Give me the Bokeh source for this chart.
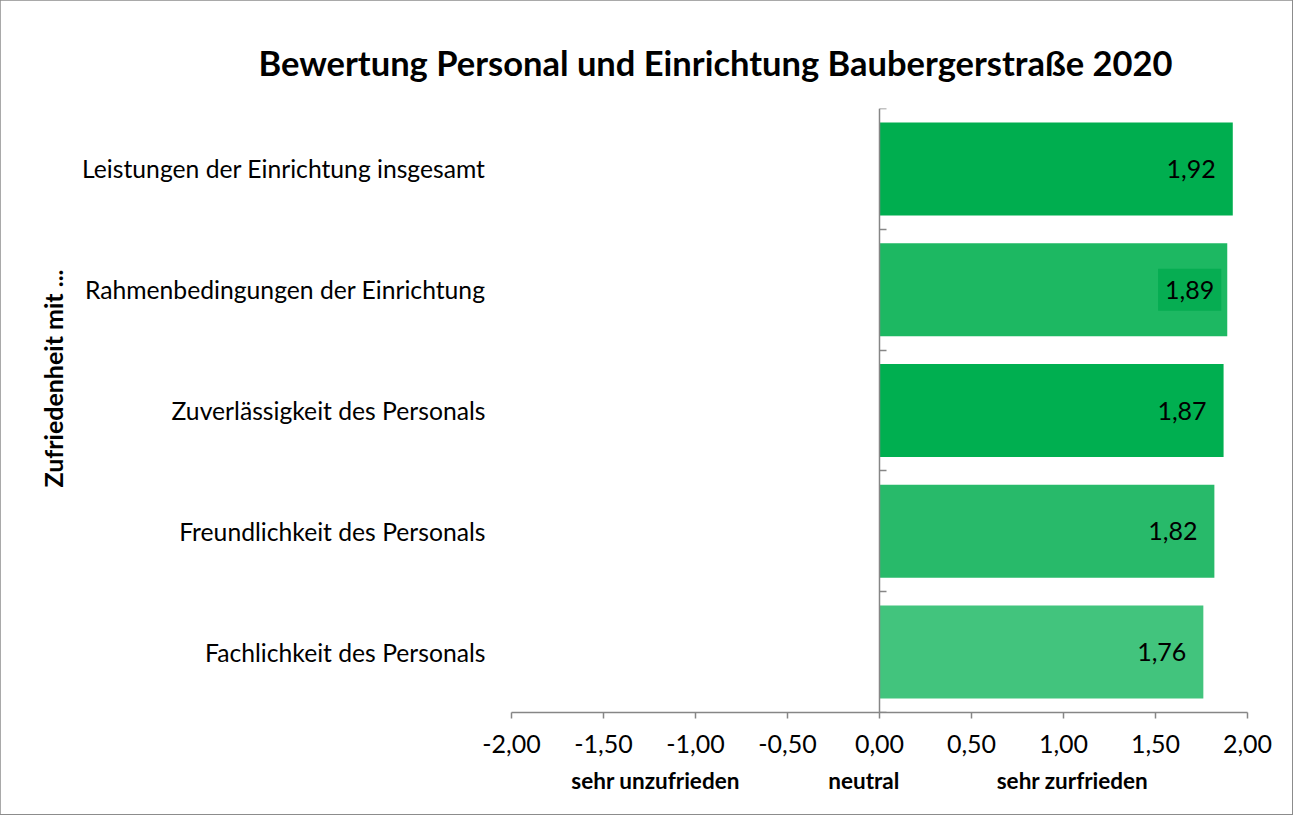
from bokeh.plotting import figure
from bokeh.models import (Range1d, LinearAxis, FixedTicker, ColumnDataSource,
                          LabelSet, Label, Title)
from bokeh.core.properties import value
from bokeh.embed import file_html
from bokeh.resources import INLINE

# ---- data (top to bottom) ----
categories = [
    "Leistungen der Einrichtung insgesamt",
    "Rahmenbedingungen der Einrichtung",
    "Zuverlässigkeit des Personals",
    "Freundlichkeit des Personals",
    "Fachlichkeit des Personals",
]
scores = [1.92, 1.89, 1.87, 1.82, 1.76]
score_labels = ["1,92", "1,89", "1,87", "1,82", "1,76"]
bar_colors = ["#00AE4F", "#1DB862", "#00AF50", "#28BA6A", "#42C47D"]
boxed = [False, True, False, False, False]

x_ticks = [-2.0, -1.5, -1.0, -0.5, 0.0, 0.5, 1.0, 1.5, 2.0]
x_tick_labels = ["-2,00", "-1,50", "-1,00", "-0,50", "0,00", "0,50", "1,00", "1,50", "2,00"]
scale_pos = [-1.217, -0.085, 1.049]
scale_labels = ["sehr unzufrieden", "neutral", "sehr zurfrieden"]

title_text = "Bewertung Personal und Einrichtung Baubergerstraße 2020"
y_title = "Zufriedenheit mit ..."

FONT = "Lato"
n = len(categories)
ypos = [n - 0.5 - i for i in range(n)]

src = ColumnDataSource(dict(y=ypos, value=scores, color=bar_colors, cat=categories))
lbl_src = ColumnDataSource(dict(
    y=[ypos[i] for i in range(n) if not boxed[i]],
    value=[scores[i] for i in range(n) if not boxed[i]],
    label=[score_labels[i] for i in range(n) if not boxed[i]],
))

p = figure(width=1292, height=814, x_range=Range1d(-2, 2), y_range=Range1d(0, n),
           output_backend="svg", toolbar_location=None,
           x_axis_type=None, y_axis_type=None,
           min_border_left=511, min_border_right=45, min_border_top=108, min_border_bottom=102)
p.outline_line_color = None
p.background_fill_color = "white"
p.border_fill_color = "white"
p.styles = {"outline": "2px solid #8c8c8c", "outline-offset": "-1px"}

p.title = Title(text=title_text, align="left", offset=-253, standoff=52,
                text_font=FONT, text_font_size="34.5px", text_font_style="bold",
                text_color="black")

# bars
p.hbar(y="y", left=0, right="value", height=0.77, fill_color="color",
       line_color=None, source=src)

# value labels
p.add_layout(LabelSet(x="value", y="y", text="label", source=lbl_src, x_offset=-17,
                      text_align="right", text_baseline="middle",
                      text_font=value(FONT), text_font_size="25px", text_color="black"))
for i in range(n):
    if boxed[i]:
        p.add_layout(Label(x=scores[i], y=ypos[i], text=score_labels[i], x_offset=-6,
                           text_align="right", text_baseline="middle",
                           text_font=FONT, text_font_size="25px", text_color="black",
                           background_fill_color="#06AD52", padding=(7, 12)))

# x axis
xax = LinearAxis(ticker=FixedTicker(ticks=x_ticks),
                 major_label_overrides={t: l for t, l in zip(x_ticks, x_tick_labels)})
xax.axis_line_color = "#868686"
xax.axis_line_width = 1.5
xax.major_tick_line_color = "#868686"
xax.major_tick_line_width = 1.5
xax.major_tick_out = 6
xax.major_tick_in = 0
xax.minor_tick_line_color = None
xax.major_label_text_font = FONT
xax.major_label_text_font_size = "25px"
xax.major_label_text_color = "black"
xax.major_label_standoff = 16
p.add_layout(xax, "below")

# scale descriptions
xax2 = LinearAxis(ticker=FixedTicker(ticks=scale_pos),
                  major_label_overrides={t: l for t, l in zip(scale_pos, scale_labels)})
xax2.axis_line_color = None
xax2.major_tick_line_color = None
xax2.minor_tick_line_color = None
xax2.major_tick_out = 0
xax2.major_tick_in = 0
xax2.major_label_text_font = FONT
xax2.major_label_text_font_size = "22.5px"
xax2.major_label_text_font_style = "bold"
xax2.major_label_text_color = "black"
xax2.major_label_standoff = 11
p.add_layout(xax2, "below")

# category axis
yax = LinearAxis(ticker=FixedTicker(ticks=ypos),
                 major_label_overrides={t: c for t, c in zip(ypos, categories)})
yax.axis_line_color = None
yax.major_tick_line_color = None
yax.minor_tick_line_color = None
yax.major_tick_out = 0
yax.major_tick_in = 0
yax.major_label_text_font = FONT
yax.major_label_text_font_size = "24.7px"
yax.major_label_text_color = "black"
yax.major_label_standoff = 26
p.add_layout(yax, "left")

# value axis line at zero
bounds = list(range(n + 1))
yline = LinearAxis(fixed_location=0, ticker=FixedTicker(ticks=bounds),
                   major_label_overrides={b: "" for b in bounds})
yline.axis_line_color = "#868686"
yline.axis_line_width = 1.5
yline.major_tick_line_color = "#868686"
yline.major_tick_line_width = 1.5
yline.major_tick_in = 7
yline.major_tick_out = 0
yline.minor_tick_line_color = None
yline.major_label_standoff = 0
p.add_layout(yline, "left")

# vertical axis title
p.add_layout(Title(text=y_title, align="left", offset=225, standoff=24,
                   text_font=FONT, text_font_size="25px", text_font_style="bold",
                   text_color="black"), "left")

open("out.html", "w").write(file_html(p, INLINE))
